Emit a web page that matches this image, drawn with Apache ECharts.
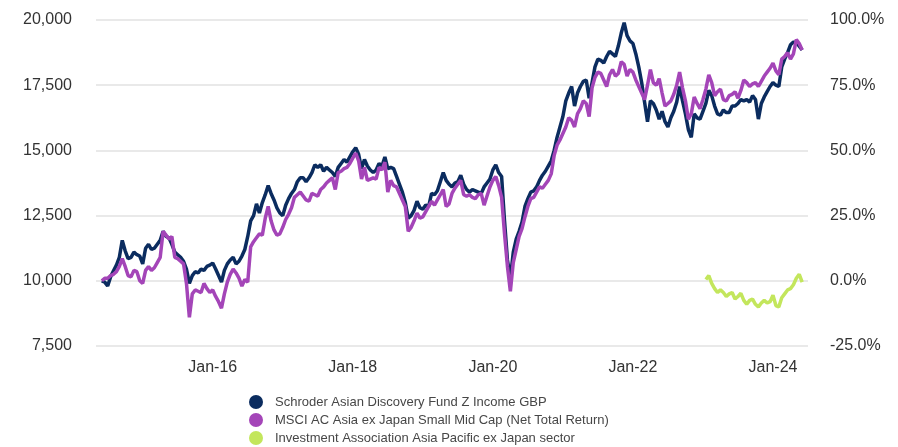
<!DOCTYPE html>
<html>
<head>
<meta charset="utf-8">
<script src="https://cdn.jsdelivr.net/npm/echarts@6/dist/echarts.min.js"></script>
<style>
  html, body { margin: 0; padding: 0; background: #fff; }
  #chart { width: 898px; height: 447px; }
</style>
</head>
<body>
<div id="chart"></div>
<script>
// half-monthly points, 1 Jun 2014 .. 1 Jun 2024
const seriesNames = [
  'Schroder Asian Discovery Fund Z Income GBP',
  'MSCI AC Asia ex Japan Small Mid Cap (Net Total Return)',
  'Investment Association Asia Pacific ex Japan sector'
];

const fundValues = [
  10000, 9950, 9800, 10150, 10380, 10600, 10900, 11550, 11150, 10850,
  10900, 11100, 11000, 10950, 10650, 11250, 11400, 11200, 11250, 11400,
  11550, 11900, 11700, 11650, 11400, 11100, 11000, 10900, 10750, 10450,
  9900, 10200, 10350, 10300, 10450, 10400, 10550, 10600, 10680, 10450,
  10200, 9950, 10400, 10650, 10800, 10900, 10650, 10750, 10950, 11200,
  11700, 12300, 12500, 12950, 12600, 13000, 13300, 13650, 13350, 13100,
  12800, 12600, 12500, 12900, 13150, 13350, 13500, 13800, 13950, 13950,
  13800, 13950, 14150, 14450, 14350, 14450, 14200, 14350, 14250, 14150,
  14000, 14350, 14500, 14650, 14550, 14750, 14950, 15100, 14850, 14300,
  14650, 14400, 14250, 14150, 14250, 14500, 14400, 14750, 14300, 14350,
  14300, 14000, 13700, 13400, 13000, 12400, 12500, 12700, 13050, 12800,
  12750, 12900, 12850, 13350, 13300, 13450, 13800, 14150, 13850, 13700,
  13600, 13750, 13800, 14050, 13700, 13500, 13400, 13500, 13450, 13400,
  13350, 13600, 13750, 13900, 14250, 14450, 14150, 14000, 12300, 10800,
  10100, 11100, 11600, 11900, 12250, 12850, 13150, 13400, 13450, 13600,
  13850, 14050, 14200, 14400, 14600, 15000, 15500, 15900, 16300, 16900,
  17200, 17450, 16700, 17200, 17450, 17650, 17700, 17000, 17600, 18200,
  18500, 18450, 18350, 18600, 18800, 18700, 18600, 19000, 19500, 19900,
  19400, 19200, 19100, 18700, 18200, 17600, 16850, 16100, 16900, 16800,
  16550, 16200, 16500, 16100, 15900, 16250, 16500, 16850, 17450, 16900,
  16400, 15800, 15500, 16400, 16250, 16200, 16500, 16800, 17300, 17100,
  16700, 16400, 16350, 16550, 16450, 16450, 16700, 16700, 16800, 16950,
  16900, 16950, 16850, 17100, 16950, 16200, 16800, 17050, 17250, 17450,
  17600, 17500, 17450, 18200, 18500, 18750, 19050, 19150, 19150, 19000,
  18850
];

const indexValues = [
  10000, 10100, 10100, 10200, 10250, 10350, 10550, 10850, 10550, 10200,
  10150, 10400, 10350, 10000, 9900, 10400, 10550, 10400, 10500, 10700,
  10900, 11900, 11750, 11600, 11700, 10900, 10850, 10750, 10650, 9900,
  8600, 9500, 9650, 9600, 9550, 9900, 9700, 9550, 9650, 9400,
  9200, 8950, 9500, 9950, 10250, 10450, 10300, 10100, 9800, 10050,
  9950, 11300, 11500, 11650, 11800, 11750, 12400, 12850, 12300, 11950,
  11750, 11800, 12050, 12350, 12550, 12800, 13200, 13300, 13400, 13250,
  13100, 13050, 13350, 13300, 13250, 13500, 13600, 13750, 13850, 13950,
  13500, 14150, 14200, 14300, 14350, 14500, 14700, 14900, 14600, 13900,
  14350, 13850, 13900, 13950, 13900, 14350, 14250, 14550, 13400, 13850,
  13650, 13600, 13350, 13100, 12850, 11900, 12050, 12300, 12600, 12400,
  12450, 12650, 12850, 13050, 12900, 13100, 13300, 13500, 12850, 12950,
  13350, 13550, 13700, 13850, 13300, 13250, 13300, 13200, 13150, 13300,
  13350, 12900, 13250, 13600, 13850, 14000, 13650, 13200, 11800, 10550,
  9600, 10700, 11200, 11700, 12000, 12450, 12850, 13150, 13200, 13400,
  13600, 13550, 13700, 13850, 14100, 14800, 15200, 15400, 15650, 15900,
  16250, 16150, 15900, 16400, 16600, 16900, 16800, 16300, 17400, 17800,
  18000, 17950, 17700, 17450, 17900, 18100, 17850, 17950, 18400, 18300,
  17850, 18100, 18000, 17700, 17450, 17200, 16950, 17500, 18100, 17600,
  17500, 17750, 17200, 16700, 16800, 16900, 17150, 17500, 18000, 17400,
  16900, 16200, 16400, 17050, 16800, 16600, 16950, 17350, 17900, 17600,
  17100, 17250, 17350, 16950, 16900, 17100, 17150, 17250, 17000, 17300,
  17700, 17600, 17450, 17550, 17600, 17450, 17650, 17850, 18000, 18150,
  18350, 18050, 17900, 18500, 18600, 18750, 18500, 18700, 19250, 19100,
  18850
];

// sector, % on the right axis, from 16 Jan 2023
const sectorStart = 207;
const sectorValues = [
  0.5, 2.0, -1.0, -3.0, -4.5, -3.5, -4.5, -6.0, -5.0, -4.5,
  -7.0, -6.0, -4.8, -7.5, -9.0, -7.5, -7.0, -9.0, -10.0, -8.5,
  -7.5, -8.5, -8.0, -5.5, -9.5, -10.0, -6.5, -5.0, -3.5, -3.0,
  -1.5, 1.0, 2.5, -0.5
];

const xLabelYears = [2016, 2018, 2020, 2022, 2024];

// axis runs 1 May 2014 .. 1 Jul 2024 in half months
const dates = [];
for (let y = 2014, m = 4; ; ) {
  const mm = String(m + 1).padStart(2, '0');
  dates.push(`${y}-${mm}-01`);
  if (y === 2024 && m === 6) break;
  dates.push(`${y}-${mm}-16`);
  m++;
  if (m === 12) { m = 0; y++; }
}
const lead = 2; // May 2014 has no data
const pad = (vals, start) => dates.map((d, i) => {
  const v = vals[i - lead - start];
  return v === undefined ? null : v;
});

const colors = ['#0b2c5f', '#a445b8', '#c3e65c'];
const font = 'Liberation Sans, Arial, sans-serif';

const chart = echarts.init(document.getElementById('chart'));
chart.setOption({
  animation: false,
  textStyle: { fontFamily: font },
  color: colors,
  grid: { left: 96, right: 90, top: 20, bottom: 101 },
  legend: {
    orient: 'vertical',
    left: 249,
    top: 395,
    height: 60,
    padding: 0,
    itemGap: 4,
    itemWidth: 14,
    itemHeight: 14,
    icon: 'circle',
    data: seriesNames,
    textStyle: { fontSize: 13, color: '#474747', fontFamily: font, padding: [0, 0, 0, 7] }
  },
  xAxis: {
    type: 'category',
    data: dates,
    boundaryGap: false,
    axisLine: { show: false },
    axisTick: { show: false },
    splitLine: { show: false },
    axisLabel: {
      margin: 14,
      fontSize: 16,
      color: '#333',
      interval: (i, v) => v.endsWith('-01-01') && xLabelYears.includes(+v.slice(0, 4)),
      formatter: v => 'Jan-' + v.slice(2, 4)
    }
  },
  yAxis: [
    {
      type: 'value',
      min: 7500,
      max: 20000,
      interval: 2500,
      axisLine: { show: false },
      axisTick: { show: false },
      axisLabel: {
        margin: 24,
        fontSize: 16,
        color: '#333',
        formatter: v => v.toLocaleString('en-US')
      },
      splitLine: { lineStyle: { color: '#e2e2e2', width: 1.5 } }
    },
    {
      type: 'value',
      min: -25,
      max: 100,
      interval: 25,
      axisLine: { show: false },
      axisTick: { show: false },
      axisLabel: {
        margin: 22,
        fontSize: 16,
        color: '#333',
        formatter: v => v.toFixed(1) + '%'
      },
      splitLine: { show: false }
    }
  ],
  series: [
    {
      name: seriesNames[0],
      type: 'line',
      data: pad(fundValues, 0),
      showSymbol: false,
      lineStyle: { width: 3.5, color: colors[0] },
      itemStyle: { color: colors[0] }
    },
    {
      name: seriesNames[1],
      type: 'line',
      data: pad(indexValues, 0),
      showSymbol: false,
      lineStyle: { width: 3.5, color: colors[1] },
      itemStyle: { color: colors[1] }
    },
    {
      name: seriesNames[2],
      type: 'line',
      yAxisIndex: 1,
      data: pad(sectorValues, sectorStart),
      showSymbol: false,
      lineStyle: { width: 3.5, color: colors[2] },
      itemStyle: { color: colors[2] }
    }
  ]
});
</script>
</body>
</html>
